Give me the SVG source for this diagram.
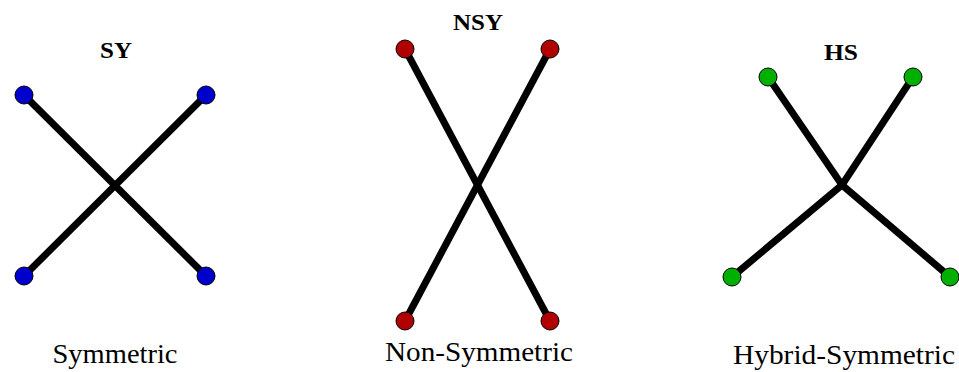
<svg xmlns="http://www.w3.org/2000/svg" width="959" height="372" viewBox="0 0 959 372">
<style>
.e{stroke:#000;stroke-width:7;stroke-linecap:butt}
.n{stroke:#000;stroke-width:1}
.b{fill:#0000cc}.r{fill:#b00000}.g{fill:#00b000}
.t{font-family:"Liberation Serif",serif;font-weight:bold;font-size:23px;text-anchor:middle;fill:#000}
.l{font-family:"Liberation Serif",serif;font-size:28px;text-anchor:middle;fill:#000}
</style>
<rect width="959" height="372" fill="#fff"/>
<g id="connectors">
<line class="e" x1="24" y1="95" x2="206" y2="276"/>
<line class="e" x1="206" y1="95" x2="24" y2="276"/>
<line class="e" x1="405" y1="49" x2="550" y2="321"/>
<line class="e" x1="550" y1="49" x2="405" y2="321"/>
<line class="e" x1="768" y1="77" x2="842" y2="185"/>
<line class="e" x1="913" y1="77" x2="842" y2="185"/>
<line class="e" x1="732" y1="277" x2="842" y2="185"/>
<line class="e" x1="950" y1="277" x2="842" y2="185"/>
</g>
<g id="sy">
<text class="t" x="116" y="58" textLength="32" lengthAdjust="spacingAndGlyphs">SY</text>
<circle class="n b" cx="24" cy="95" r="9"/>
<circle class="n b" cx="206" cy="95" r="9"/>
<circle class="n b" cx="24" cy="276" r="9"/>
<circle class="n b" cx="206" cy="276" r="9"/>
<text class="l" x="115" y="363" textLength="125" lengthAdjust="spacingAndGlyphs">Symmetric</text>
</g>
<g id="nsy">
<text class="t" x="478" y="30" textLength="50" lengthAdjust="spacingAndGlyphs">NSY</text>
<circle class="n r" cx="405" cy="49" r="9"/>
<circle class="n r" cx="550" cy="49" r="9"/>
<circle class="n r" cx="405" cy="321" r="9"/>
<circle class="n r" cx="550" cy="321" r="9"/>
<text class="l" x="479" y="361" textLength="188" lengthAdjust="spacingAndGlyphs">Non-Symmetric</text>
</g>
<g id="hs">
<text class="t" x="841" y="60" textLength="34" lengthAdjust="spacingAndGlyphs">HS</text>
<circle class="n g" cx="768" cy="77" r="9"/>
<circle class="n g" cx="913" cy="77" r="9"/>
<circle class="n g" cx="732" cy="277" r="9"/>
<circle class="n g" cx="950" cy="277" r="9"/>
<text class="l" x="844" y="364" textLength="222" lengthAdjust="spacingAndGlyphs">Hybrid-Symmetric</text>
</g>
</svg>
